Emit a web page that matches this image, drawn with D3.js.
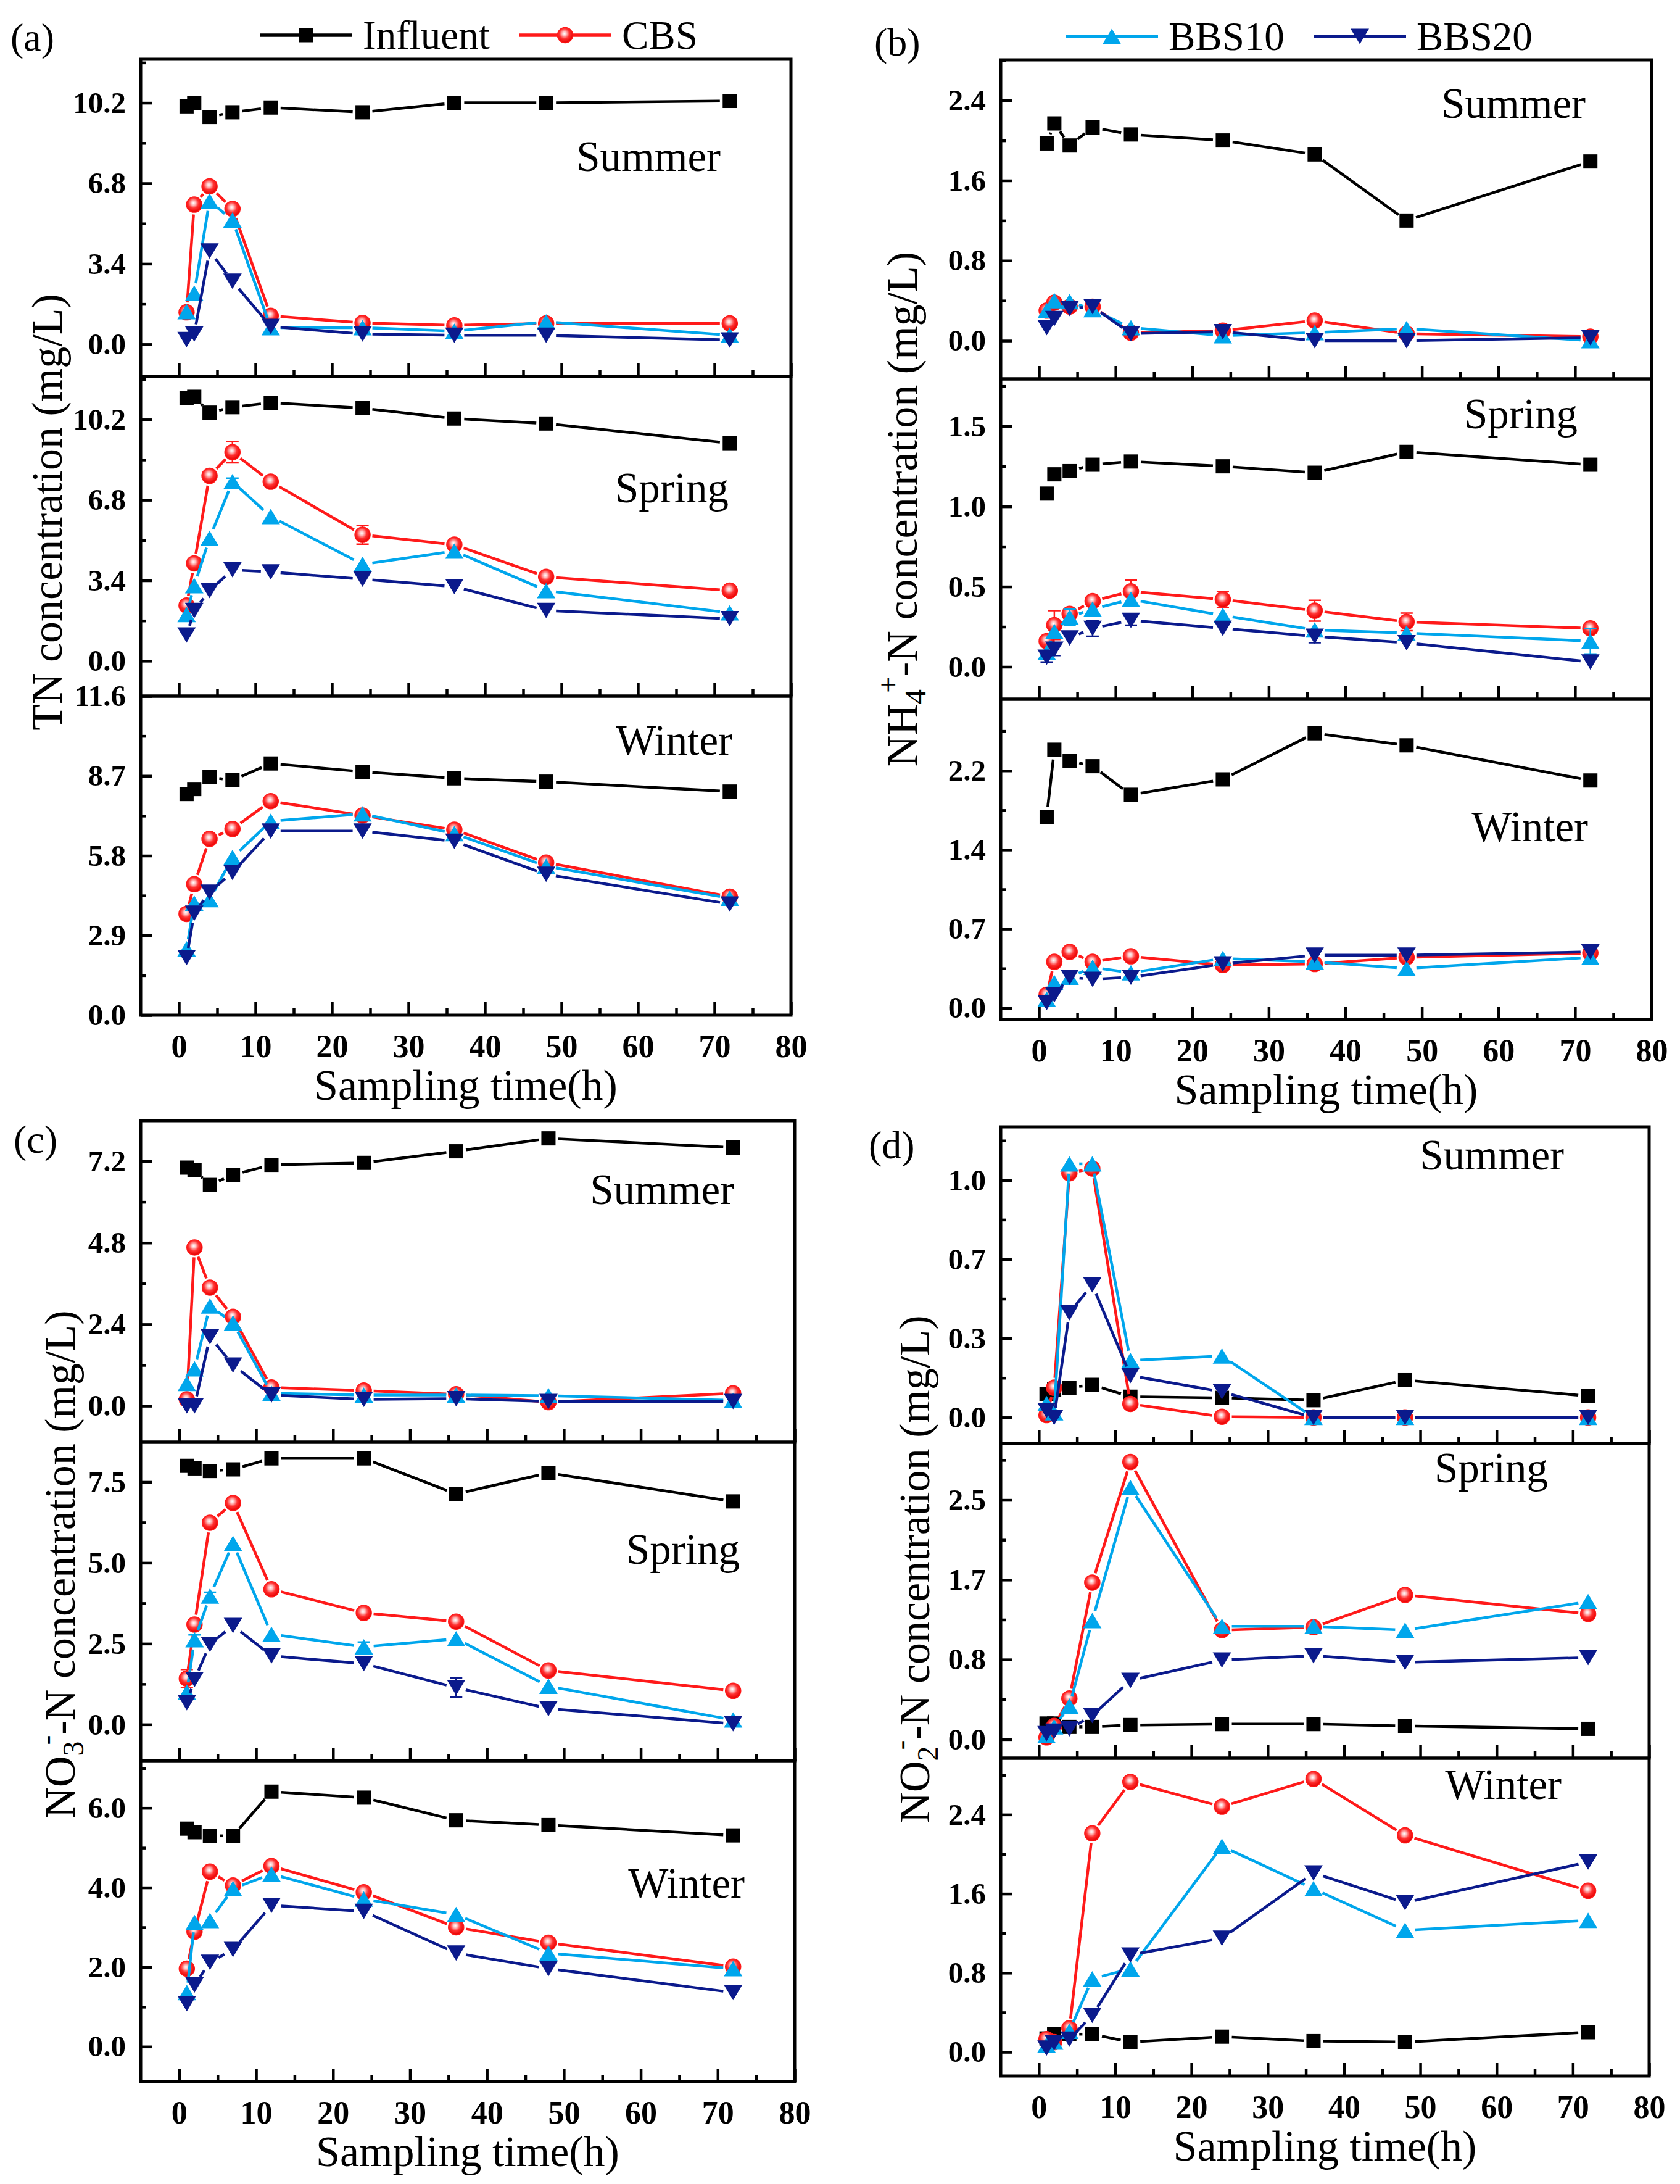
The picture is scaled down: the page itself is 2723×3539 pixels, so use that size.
<!DOCTYPE html>
<html>
<head>
<meta charset="utf-8">
<script src="https://cdnjs.cloudflare.com/ajax/libs/d3/7.8.5/d3.min.js"></script>
<style>
  body { margin: 0; background: #fff; }
  text { font-family: "Liberation Serif", "Times New Roman", serif; fill: #000; }
</style>
</head>
<body>
<svg id="chart" width="2723" height="3539"></svg>
<script>
// sampling times (h)
const hours = [1, 2, 4, 7, 12, 24, 36, 48, 72];
const seriesNames = ["Influent", "CBS", "BBS10", "BBS20"];
const seriesColors = ["#000000", "#ff1a1a", "#00a6ec", "#0b1a8c"];
const xRange = [-5, 80];
const xTicks = [0, 10, 20, 30, 40, 50, 60, 70, 80];
const xMinor = [5, 15, 25, 35, 45, 55, 65, 75];

// (a) TN  -- rows: Influent, CBS, BBS10, BBS20
const tnSummer = [
  [10.05, 10.18, 9.6, 9.8, 10.0, 9.8, 10.2, 10.2, 10.28],
  [1.35, 5.9, 6.67, 5.72, 1.2, 0.9, 0.8, 0.88, 0.88],
  [1.38, 2.16, 6.05, 5.25, 0.7, 0.7, 0.55, 0.95, 0.38],
  [0.2, 0.43, 3.94, 2.66, 0.75, 0.43, 0.38, 0.38, 0.18]
];
const tnSpring = [
  [11.12, 11.16, 10.49, 10.72, 10.91, 10.68, 10.24, 10.03, 9.2],
  [2.34, 4.12, 7.82, 8.82, 7.57, 5.33, 4.91, 3.55, 2.97],
  [1.96, 3.18, 5.18, 7.57, 6.1, 4.08, 4.64, 2.97, 2.03],
  [1.09, 2.13, 2.97, 3.85, 3.76, 3.45, 3.14, 2.13, 1.78]
];
const tnWinter = [
  [8.04, 8.22, 8.65, 8.54, 9.15, 8.85, 8.61, 8.49, 8.13],
  [3.68, 4.76, 6.41, 6.77, 7.78, 7.26, 6.74, 5.55, 4.31],
  [2.41, 4.07, 4.2, 5.73, 7.05, 7.32, 6.6, 5.42, 4.25],
  [2.09, 3.71, 4.47, 5.19, 6.69, 6.69, 6.32, 5.12, 4.04]
];
const tnSpringErr = [
  [0, 0, 0, 0, 0, 0, 0, 0, 0],
  [0.15, 0, 0, 0.45, 0, 0.4, 0, 0, 0],
  [0, 0, 0, 0.15, 0, 0, 0, 0, 0],
  [0, 0, 0, 0, 0, 0, 0, 0, 0]
];

// (b) NH4+-N
const nh4Summer = [
  [1.97, 2.17, 1.95, 2.13, 2.06, 2.0, 1.86, 1.2, 1.79],
  [0.3, 0.38, 0.34, 0.34, 0.08, 0.1, 0.2, 0.07, 0.04],
  [0.3, 0.4, 0.39, 0.31, 0.13, 0.05, 0.08, 0.12, 0.0],
  [0.13, 0.22, 0.32, 0.34, 0.07, 0.09, 0.0, 0.0, 0.03]
];
const nh4Spring = [
  [1.08, 1.2, 1.22, 1.26, 1.28, 1.25, 1.21, 1.34, 1.26],
  [0.16, 0.26, 0.33, 0.41, 0.47, 0.42, 0.35, 0.28, 0.24],
  [0.09, 0.22, 0.31, 0.36, 0.42, 0.32, 0.23, 0.21, 0.16],
  [0.06, 0.11, 0.18, 0.24, 0.29, 0.24, 0.19, 0.15, 0.03]
];
const nh4Winter = [
  [1.74, 2.35, 2.25, 2.2, 1.94, 2.08, 2.5, 2.39, 2.07],
  [0.12, 0.42, 0.51, 0.42, 0.47, 0.39, 0.4, 0.46, 0.5],
  [0.08, 0.23, 0.28, 0.37, 0.32, 0.45, 0.42, 0.36, 0.46],
  [0.05, 0.12, 0.28, 0.26, 0.28, 0.4, 0.48, 0.48, 0.51]
];
const nh4SpringErr = [
  [0, 0, 0, 0, 0, 0, 0, 0, 0],
  [0, 0.09, 0.03, 0.03, 0.07, 0.05, 0.065, 0.055, 0],
  [0, 0, 0.05, 0, 0, 0, 0, 0, 0.08],
  [0.03, 0.04, 0, 0.05, 0.03, 0, 0.04, 0, 0]
];

// (c) NO3--N
const no3Summer = [
  [7.01, 6.93, 6.5, 6.8, 7.09, 7.15, 7.49, 7.87, 7.6],
  [0.19, 4.66, 3.48, 2.62, 0.54, 0.45, 0.34, 0.11, 0.37],
  [0.66, 1.09, 2.94, 2.44, 0.37, 0.32, 0.32, 0.3, 0.16],
  [0.0, 0.0, 2.03, 1.2, 0.32, 0.19, 0.21, 0.13, 0.13]
];
const no3Spring = [
  [8.0, 7.92, 7.84, 7.89, 8.23, 8.23, 7.13, 7.78, 6.9],
  [1.42, 3.09, 6.24, 6.85, 4.18, 3.45, 3.18, 1.67, 1.04],
  [1.0, 2.62, 3.97, 5.6, 2.79, 2.4, 2.65, 1.18, 0.14],
  [0.67, 1.39, 2.48, 3.06, 2.12, 1.88, 1.14, 0.49, 0.02]
];
const no3Winter = [
  [5.48, 5.39, 5.3, 5.3, 6.41, 6.26, 5.69, 5.57, 5.31],
  [1.96, 2.89, 4.4, 4.05, 4.54, 3.88, 3.0, 2.61, 2.01],
  [1.36, 3.12, 3.17, 3.97, 4.34, 3.71, 3.32, 2.35, 1.96],
  [1.08, 1.55, 2.12, 2.44, 3.55, 3.4, 2.35, 1.96, 1.36]
];
const no3SpringErr = [
  [0, 0, 0, 0, 0, 0, 0, 0, 0],
  [0.28, 0, 0, 0, 0, 0, 0, 0, 0],
  [0, 0.15, 0.12, 0, 0, 0.15, 0, 0, 0],
  [0, 0, 0, 0, 0, 0, 0.3, 0, 0]
];

// (d) NO2--N
const no2Summer = [
  [0.1, 0.12, 0.128, 0.14, 0.089, 0.084, 0.074, 0.16, 0.092],
  [0.01, 0.128, 1.05, 1.07, 0.058, 0.003, 0.0, 0.0, 0.0],
  [0.06, 0.02, 1.09, 1.09, 0.245, 0.264, 0.0, 0.0, 0.0],
  [0.03, 0.0, 0.45, 0.57, 0.18, 0.11, 0.0, 0.0, 0.0]
];
const no2Spring = [
  [0.166, 0.166, 0.13, 0.13, 0.15, 0.16, 0.16, 0.14, 0.11],
  [0.02, 0.14, 0.43, 1.65, 2.92, 1.15, 1.18, 1.52, 1.32],
  [0.04, 0.13, 0.35, 1.25, 2.65, 1.19, 1.19, 1.15, 1.45],
  [0.06, 0.085, 0.11, 0.25, 0.62, 0.835, 0.88, 0.81, 0.86]
];
const no2Winter = [
  [0.137, 0.18, 0.18, 0.18, 0.1, 0.155, 0.11, 0.1, 0.2],
  [0.13, 0.1, 0.24, 2.21, 2.73, 2.48, 2.76, 2.19, 1.63],
  [0.07, 0.1, 0.21, 0.74, 0.84, 2.08, 1.65, 1.23, 1.33],
  [0.04, 0.09, 0.13, 0.37, 0.98, 1.15, 1.81, 1.51, 1.92]
];

// y axis ranges and ticks
const tnSummerRange = [-1.36, 12.04], tnSummerTicks = [0, 3.4, 6.8, 10.2], tnSummerMinor = [1.7, 5.1, 8.5, 11.9];
const tnSpringRange = [-1.49, 12.02], tnSpringTicks = [0, 3.4, 6.8, 10.2], tnSpringMinor = [1.7, 5.1, 8.5, 11.9];
const tnWinterRange = [0, 11.6], tnWinterTicks = [0, 2.9, 5.8, 8.7, 11.6], tnWinterMinor = [1.45, 4.35, 7.25, 10.15];
const nh4SummerRange = [-0.382, 2.805], nh4SummerTicks = [0, 0.8, 1.6, 2.4], nh4SummerMinor = [0.4, 1.2, 2.0, 2.8];
const nh4SpringRange = [-0.202, 1.795], nh4SpringTicks = [0, 0.5, 1.0, 1.5], nh4SpringMinor = [0.25, 0.75, 1.25, 1.75];
const nh4WinterRange = [-0.105, 2.81], nh4WinterTicks = [0, 0.72, 1.44, 2.16], nh4WinterMinor = [0.36, 1.08, 1.8, 2.52];
const no3SummerRange = [-1.07, 8.39], no3SummerTicks = [0, 2.4, 4.8, 7.2], no3SummerMinor = [1.2, 3.6, 6.0];
const no3SpringRange = [-1.12, 8.73], no3SpringTicks = [0, 2.5, 5.0, 7.5], no3SpringMinor = [1.25, 3.75, 6.25];
const no3WinterRange = [-0.88, 7.19], no3WinterTicks = [0, 2, 4, 6], no3WinterMinor = [1, 3, 5, 7];
const no2SummerRange = [-0.112, 1.249], no2SummerTicks = [0, 0.34, 0.68, 1.02], no2SummerMinor = [0.17, 0.51, 0.85, 1.19];
const no2SpringRange = [-0.199, 3.115], no2SpringTicks = [0, 0.84, 1.68, 2.52], no2SpringMinor = [0.42, 1.26, 2.1, 2.94];
const no2WinterRange = [-0.243, 2.97], no2WinterTicks = [0, 0.8, 1.6, 2.4], no2WinterMinor = [0.4, 1.2, 2.0, 2.8];

// layout of the four panels (pixels)
const panels = [
  { tag: "(a)", tagPos: [17, 82], x0: 228, x1: 1282, rows: [96, 610, 1128, 1645],
    title: [["TN concentration (mg/L)", ""]], titlePos: [100, 830] },
  { tag: "(b)", tagPos: [1417, 90], x0: 1622, x1: 2677, rows: [97, 614, 1133, 1652],
    title: [["NH", ""], ["4", "sub"], ["+", "sup"], ["-N concentration (mg/L)", ""]], titlePos: [1486, 825] },
  { tag: "(c)", tagPos: [22, 1868], x0: 228, x1: 1288, rows: [1816, 2337, 2853, 3373],
    title: [["NO", ""], ["3", "sub"], ["-", "sup"], ["-N concentration (mg/L)", ""]], titlePos: [121, 2535] },
  { tag: "(d)", tagPos: [1408, 1877], x0: 1622, x1: 2673, rows: [1826, 2339, 2849, 3364],
    title: [["NO", ""], ["2", "sub"], ["-", "sup"], ["-N concentration (mg/L)", ""]], titlePos: [1506, 2543] }
];

const subplots = [
  { p: 0, row: 0, season: "Summer", at: [1168, 277], vals: tnSummer, range: tnSummerRange, ticks: tnSummerTicks, minor: tnSummerMinor },
  { p: 0, row: 1, season: "Spring", at: [1181, 814], vals: tnSpring, err: tnSpringErr, range: tnSpringRange, ticks: tnSpringTicks, minor: tnSpringMinor },
  { p: 0, row: 2, season: "Winter", at: [1187, 1223], vals: tnWinter, range: tnWinterRange, ticks: tnWinterTicks, minor: tnWinterMinor },
  { p: 1, row: 0, season: "Summer", at: [2570, 191], vals: nh4Summer, range: nh4SummerRange, ticks: nh4SummerTicks, minor: nh4SummerMinor },
  { p: 1, row: 1, season: "Spring", at: [2557, 694], vals: nh4Spring, err: nh4SpringErr, range: nh4SpringRange, ticks: nh4SpringTicks, minor: nh4SpringMinor },
  { p: 1, row: 2, season: "Winter", at: [2574, 1363], vals: nh4Winter, range: nh4WinterRange, ticks: nh4WinterTicks, minor: nh4WinterMinor },
  { p: 2, row: 0, season: "Summer", at: [1190, 1951], vals: no3Summer, range: no3SummerRange, ticks: no3SummerTicks, minor: no3SummerMinor },
  { p: 2, row: 1, season: "Spring", at: [1199, 2534], vals: no3Spring, err: no3SpringErr, range: no3SpringRange, ticks: no3SpringTicks, minor: no3SpringMinor },
  { p: 2, row: 2, season: "Winter", at: [1207, 3075], vals: no3Winter, range: no3WinterRange, ticks: no3WinterTicks, minor: no3WinterMinor },
  { p: 3, row: 0, season: "Summer", at: [2535, 1895], vals: no2Summer, range: no2SummerRange, ticks: no2SummerTicks, minor: no2SummerMinor },
  { p: 3, row: 1, season: "Spring", at: [2509, 2402], vals: no2Spring, range: no2SpringRange, ticks: no2SpringTicks, minor: no2SpringMinor },
  { p: 3, row: 2, season: "Winter", at: [2531, 2915], vals: no2Winter, range: no2WinterRange, ticks: no2WinterTicks, minor: no2WinterMinor }
];

const svg = d3.select("#chart");
const defs = svg.append("defs");
const ball = defs.append("radialGradient").attr("id", "ball")
  .attr("cx", "45%").attr("cy", "40%").attr("r", "60%");
ball.append("stop").attr("offset", "0%").attr("stop-color", "#ffffff");
ball.append("stop").attr("offset", "22%").attr("stop-color", "#ffc0c0");
ball.append("stop").attr("offset", "55%").attr("stop-color", "#ff3030");
ball.append("stop").attr("offset", "100%").attr("stop-color", "#e60000");

const SERIF = '"Liberation Serif", "Times New Roman", serif';
const LW = 4.5;    // line width
const GAP = 16;    // line gap around symbols

// symbol drawing
function drawSymbol(g, kind, cx, cy) {
  const col = seriesColors[kind];
  if (kind === 0) {
    g.append("rect").attr("x", cx - 11.5).attr("y", cy - 11.5).attr("width", 23).attr("height", 23).attr("fill", col);
  } else if (kind === 1) {
    g.append("circle").attr("cx", cx).attr("cy", cy).attr("r", 12.5)
      .attr("fill", "url(#ball)").attr("stroke", "#ff1a1a").attr("stroke-width", 1.5);
  } else {
    const s = 30, h = 25, dir = kind === 2 ? 1 : -1;
    const pts = [[cx, cy - dir * h / 2], [cx + s / 2, cy + dir * h / 2], [cx - s / 2, cy + dir * h / 2]];
    g.append("path").attr("d", "M" + pts.map(p => p.join(",")).join("L") + "Z").attr("fill", col);
  }
}

function gapSegment(g, a, b, col) {
  const dx = b[0] - a[0], dy = b[1] - a[1];
  const len = Math.hypot(dx, dy);
  if (len <= 2 * GAP + 2) return;
  const ux = dx / len, uy = dy / len;
  g.append("line")
    .attr("x1", a[0] + ux * GAP).attr("y1", a[1] + uy * GAP)
    .attr("x2", b[0] - ux * GAP).attr("y2", b[1] - uy * GAP)
    .attr("stroke", col).attr("stroke-width", LW);
}

function styleAxis(sel) {
  sel.select(".domain").remove();
  sel.attr("font-family", SERIF).attr("font-size", 49).attr("font-weight", "bold");
  sel.selectAll(".tick line").attr("stroke", "#000").attr("stroke-width", 4.5);
  sel.selectAll(".tick text").attr("fill", "#000");
}

subplots.forEach(sp => {
  const P = panels[sp.p];
  const top = P.rows[sp.row], bottom = P.rows[sp.row + 1];
  const x = d3.scaleLinear().domain(xRange).range([P.x0, P.x1]);
  const y = d3.scaleLinear().domain(sp.range).range([bottom, top]);
  const g = svg.append("g");

  // y axis (ticks inward)
  g.append("g").attr("transform", `translate(${P.x0},0)`)
    .call(d3.axisLeft(y).tickValues(sp.ticks).tickSize(-18).tickPadding(24).tickFormat(d3.format(".1f")))
    .call(styleAxis);
  g.append("g").attr("transform", `translate(${P.x0},0)`)
    .call(d3.axisLeft(y).tickValues(sp.minor.filter(v => v <= sp.range[1])).tickSize(-9).tickFormat(""))
    .call(styleAxis);

  // x axis on each subplot bottom, labels only for the last one
  const last = sp.row === 2;
  g.append("g").attr("transform", `translate(0,${bottom})`)
    .call(d3.axisBottom(x).tickValues(xTicks).tickSize(-21).tickPadding(31)
      .tickFormat(last ? d3.format("d") : () => ""))
    .call(styleAxis)
    .call(a => a.selectAll(".tick text").attr("font-size", 52));
  g.append("g").attr("transform", `translate(0,${bottom})`)
    .call(d3.axisBottom(x).tickValues(xMinor).tickSize(-11).tickFormat(""))
    .call(styleAxis);

  // series
  sp.vals.forEach((vals, k) => {
    const sg = g.append("g");
    const col = seriesColors[k];
    const pts = vals.map((v, i) => [x(hours[i]), y(v)]);
    for (let i = 0; i < pts.length - 1; i++) gapSegment(sg, pts[i], pts[i + 1], col);
    if (sp.err) {
      sp.err[k].forEach((e, i) => {
        if (!e) return;
        const cx = x(hours[i]);
        sg.append("path")
          .attr("d", `M${cx},${y(vals[i] - e)}V${y(vals[i] + e)}M${cx - 10},${y(vals[i] + e)}H${cx + 10}M${cx - 10},${y(vals[i] - e)}H${cx + 10}`)
          .attr("stroke", col).attr("stroke-width", 2.5).attr("fill", "none");
      });
    }
    pts.forEach(p => drawSymbol(sg, k, p[0], p[1]));
  });

  // frame
  g.append("rect").attr("x", P.x0).attr("y", top).attr("width", P.x1 - P.x0).attr("height", bottom - top)
    .attr("fill", "none").attr("stroke", "#000").attr("stroke-width", 5);

  // season label
  g.append("text").attr("x", sp.at[0]).attr("y", sp.at[1]).attr("text-anchor", "end")
    .attr("font-size", 69).text(sp.season);
});

// panel titles, tags and x titles
panels.forEach(P => {
  svg.append("text").attr("x", P.tagPos[0]).attr("y", P.tagPos[1]).attr("font-size", 64).text(P.tag);
  svg.append("text").attr("x", (P.x0 + P.x1) / 2).attr("y", P.rows[3] + 137)
    .attr("text-anchor", "middle").attr("font-size", 70).text("Sampling time(h)");
  const t = svg.append("text")
    .attr("transform", `translate(${P.titlePos[0]},${P.titlePos[1]}) rotate(-90)`)
    .attr("text-anchor", "middle").attr("font-size", 70);
  P.title.forEach(([str, kind]) => {
    const ts = t.append("tspan").text(str);
    if (kind === "sub") ts.attr("font-size", 48).attr("dy", 14);
    else if (kind === "sup") ts.attr("font-size", 48).attr("dy", -44).attr("dx", -6);
    else if (P.title.length > 1 && str.startsWith("-N")) ts.attr("dy", 30);
  });
});

// legend
const legend = [
  { k: 0, x: 421, y: 57, label: "Influent" },
  { k: 1, x: 841, y: 57, label: "CBS" },
  { k: 2, x: 1727, y: 59, label: "BBS10" },
  { k: 3, x: 2129, y: 59, label: "BBS20" }
];
legend.forEach(L => {
  const g = svg.append("g");
  g.append("line").attr("x1", L.x).attr("x2", L.x + 150).attr("y1", L.y).attr("y2", L.y)
    .attr("stroke", seriesColors[L.k]).attr("stroke-width", LW + 1);
  drawSymbol(g, L.k, L.x + 75, L.y);
  g.append("text").attr("x", L.x + 167).attr("y", L.y + 22).attr("font-size", 65).text(L.label);
});
</script>
</body>
</html>
